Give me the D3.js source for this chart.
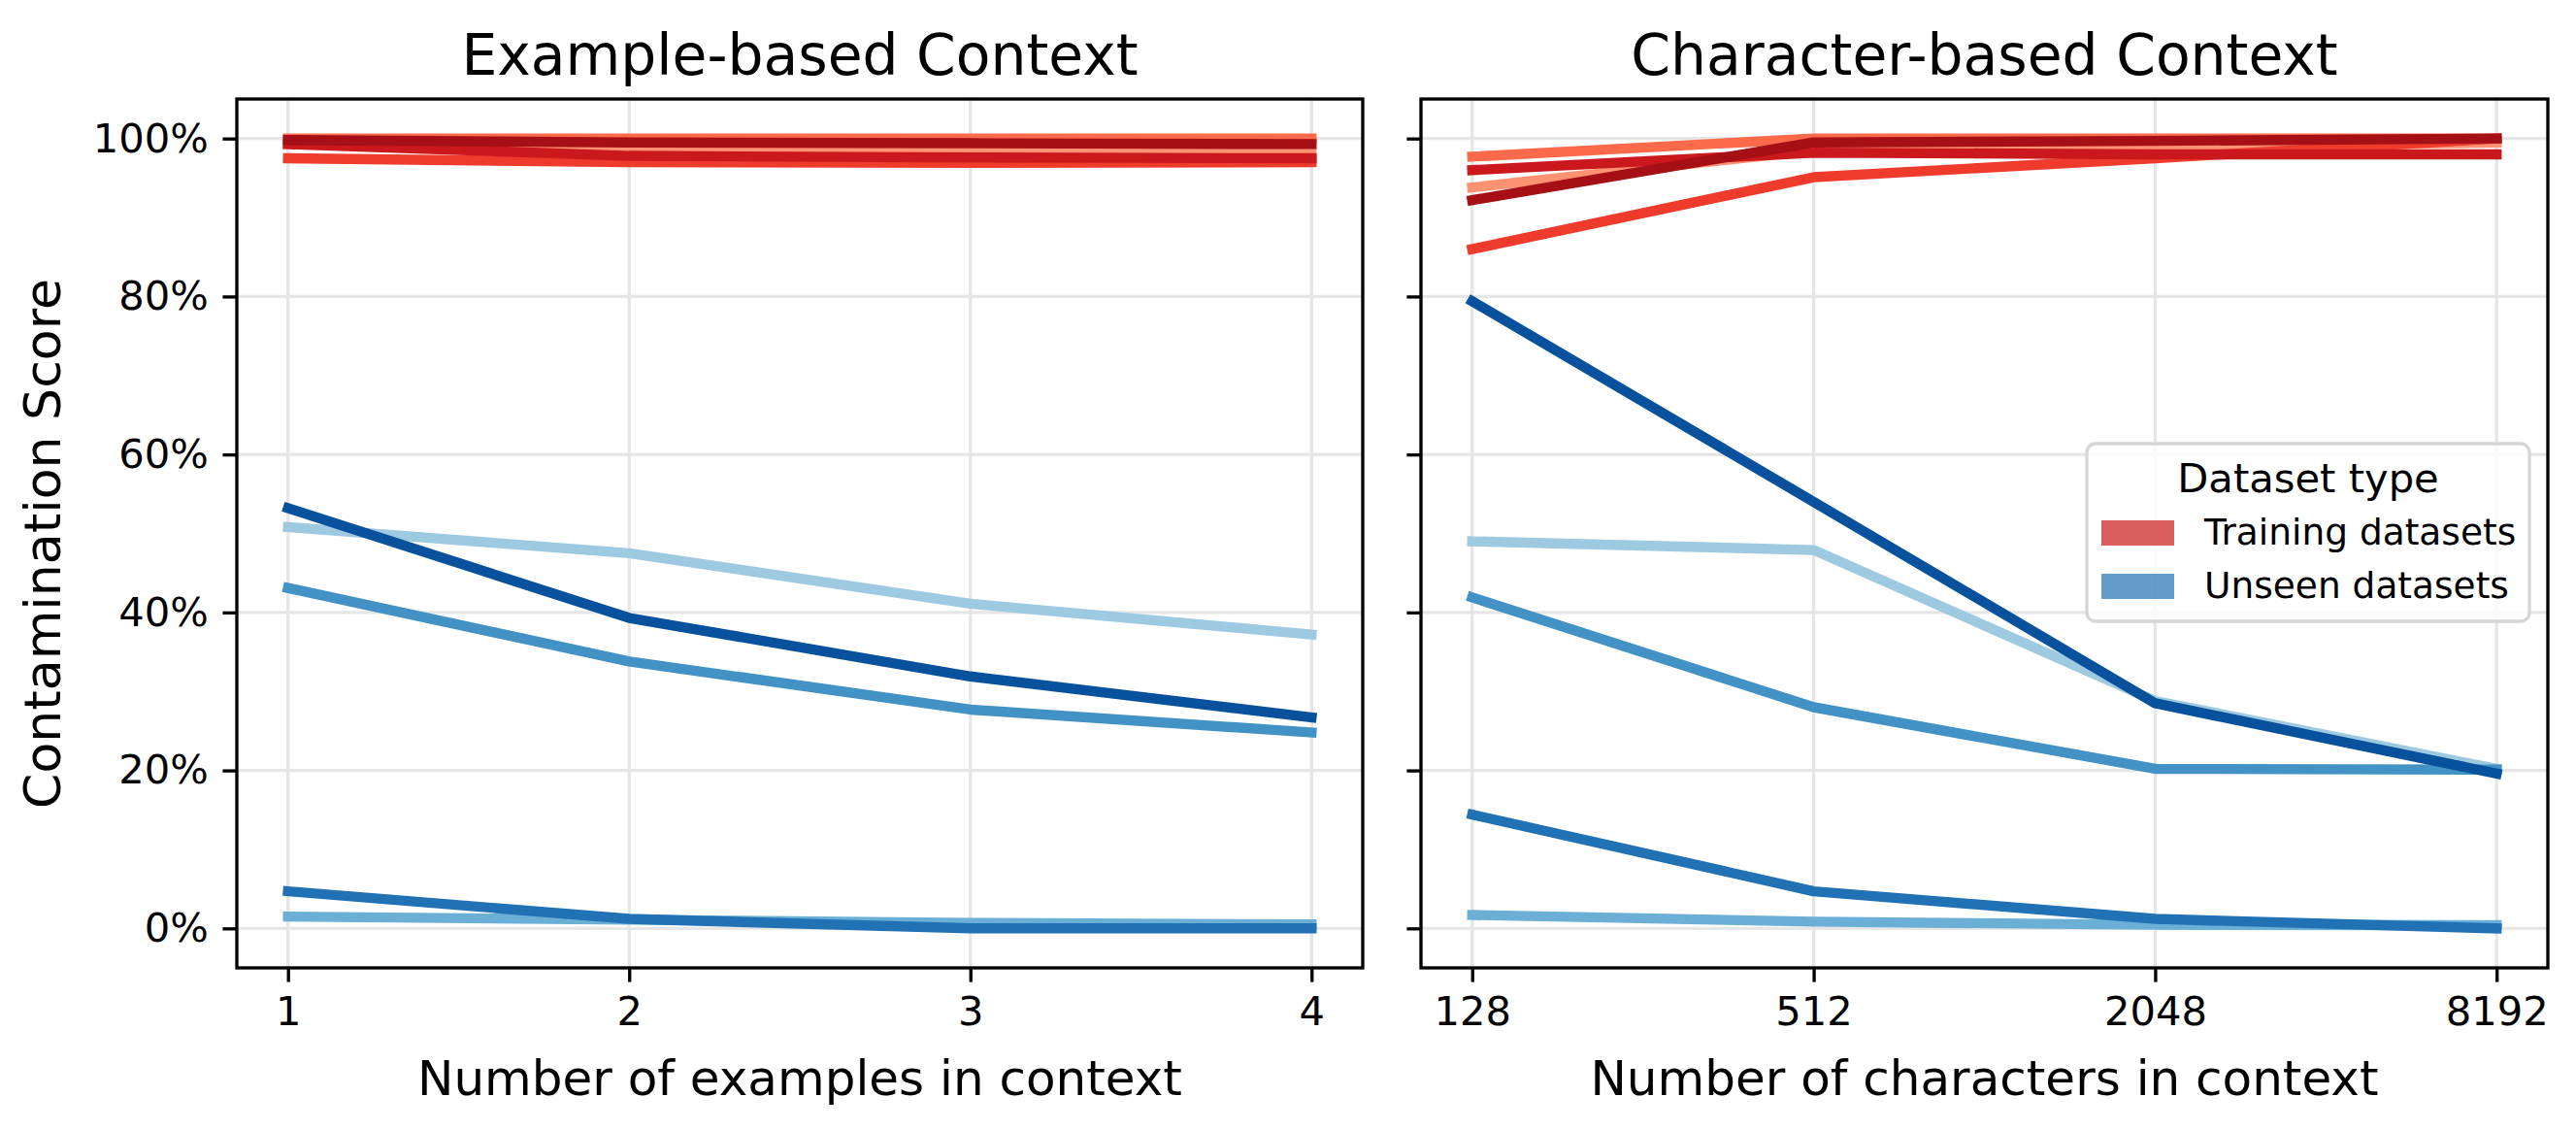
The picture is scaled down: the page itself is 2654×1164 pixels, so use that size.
<!DOCTYPE html>
<html>
<head>
<meta charset="utf-8">
<script src="https://cdn.jsdelivr.net/npm/d3@7"></script>
<style>
  body { margin: 0; background: #fff; }
  text { font-family: "DejaVu Sans", sans-serif; }
</style>
</head>
<body>
<svg></svg>
<script>
// x values for both panels
var exampleCounts = [1, 2, 3, 4];
var charCounts = [128, 512, 2048, 8192];
var yTicks = [0, 20, 40, 60, 80, 100];

// colours, light -> dark (drawn in this order so the dark ones end up on top)
var redColors = ["#fc9272", "#fb6a4a", "#ef3b2c", "#cb181d", "#a50f15"];
var blueColors = ["#9ecae1", "#6baed6", "#4292c6", "#2171b5", "#08519c"];

// training datasets, example-based (one array per red line)
var trainExample1 = [99.3, 98.5, 98.3, 98.2];
var trainExample2 = [100, 100, 100, 100];
var trainExample3 = [97.5, 97.0, 96.9, 97.0];
var trainExample4 = [99.3, 97.8, 97.6, 97.5];
var trainExample5 = [99.8, 99.5, 99.4, 99.3];

// unseen datasets, example-based
var unseenExample1 = [50.8, 47.5, 41.1, 37.2];
var unseenExample2 = [1.5, 1.1, 0.7, 0.5];
var unseenExample3 = [43.1, 33.8, 27.7, 24.8];
var unseenExample4 = [4.7, 1.2, 0.0, 0.0];
var unseenExample5 = [53.2, 39.3, 31.9, 26.7];

// training datasets, character-based
var trainChar1 = [93.8, 98.5, 98.9, 99.5];
var trainChar2 = [97.7, 100, 100, 100];
var trainChar3 = [86.0, 95.1, 97.5, 100];
var trainChar4 = [96.0, 98.2, 98.0, 98.0];
var trainChar5 = [92.2, 99.5, 99.7, 100];

// unseen datasets, character-based
var unseenChar1 = [49.0, 47.9, 28.8, 20.2];
var unseenChar2 = [1.7, 0.85, 0.45, 0.4];
var unseenChar3 = [41.9, 28.0, 20.2, 20.1];
var unseenChar4 = [14.4, 4.7, 1.2, 0.0];
var unseenChar5 = [79.4, 54.0, 28.5, 19.6];

var legendLabels = ["Training datasets", "Unseen datasets"];

var svgWidth = 2654, svgHeight = 1164;
var pt = 300 / 72; // figure was 300 dpi

var svg = d3.select("svg")
    .attr("width", svgWidth)
    .attr("height", svgHeight);

// (don't call these top/bottom, window.top is taken)
var plotTop = 102, plotBottom = 997;

var yScale = d3.scaleLinear()
    .domain([-5, 105])
    .range([plotBottom, plotTop]);

var panels = [
    {
        left: 244, right: 1404,
        title: "Example-based Context",
        xlabel: "Number of examples in context",
        xs: exampleCounts,
        scale: d3.scaleLinear().domain([0.85, 4.15]),
        red: [trainExample1, trainExample2, trainExample3, trainExample4, trainExample5],
        blue: [unseenExample1, unseenExample2, unseenExample3, unseenExample4, unseenExample5],
        yLabels: true
    },
    {
        left: 1464, right: 2625,
        title: "Character-based Context",
        xlabel: "Number of characters in context",
        xs: charCounts,
        // log2 axis, 5% margin on each side like matplotlib
        scale: d3.scaleLog().base(2).domain([Math.pow(2, 6.7), Math.pow(2, 13.3)]),
        red: [trainChar1, trainChar2, trainChar3, trainChar4, trainChar5],
        blue: [unseenChar1, unseenChar2, unseenChar3, unseenChar4, unseenChar5],
        yLabels: false
    }
];

panels.forEach(function(p) {
    var xScale = p.scale.range([p.left, p.right]);
    var g = svg.append("g");

    // grid
    g.selectAll(".hgrid")
        .data(yTicks)
        .enter()
        .append("line")
        .attr("x1", p.left).attr("x2", p.right)
        .attr("y1", function(d) { return yScale(d); })
        .attr("y2", function(d) { return yScale(d); })
        .attr("stroke", "#e6e6e6")
        .attr("stroke-width", 0.8 * pt);

    g.selectAll(".vgrid")
        .data(p.xs)
        .enter()
        .append("line")
        .attr("x1", function(d) { return xScale(d); })
        .attr("x2", function(d) { return xScale(d); })
        .attr("y1", plotTop).attr("y2", plotBottom)
        .attr("stroke", "#e6e6e6")
        .attr("stroke-width", 0.8 * pt);

    var line = d3.line()
        .x(function(d, i) { return xScale(p.xs[i]); })
        .y(function(d) { return yScale(d); });

    function drawSeries(series, colors) {
        series.forEach(function(s, i) {
            g.append("path")
                .datum(s)
                .attr("d", line)
                .attr("fill", "none")
                .attr("stroke", colors[i])
                .attr("stroke-width", 2.5 * pt)
                .attr("stroke-linejoin", "round")
                .attr("stroke-linecap", "square");
        });
    }
    drawSeries(p.red, redColors);
    drawSeries(p.blue, blueColors);

    // axes frame
    g.append("rect")
        .attr("x", p.left).attr("y", plotTop)
        .attr("width", p.right - p.left)
        .attr("height", plotBottom - plotTop)
        .attr("fill", "none")
        .attr("stroke", "#000")
        .attr("stroke-width", 0.8 * pt);

    var x_axis = d3.axisBottom(xScale)
        .tickValues(p.xs)
        .tickFormat(function(d) { return d; })
        .tickSize(3.5 * pt)
        .tickSizeOuter(0)
        .tickPadding(3.5 * pt);

    var y_axis = d3.axisLeft(yScale)
        .tickValues(yTicks)
        .tickFormat(function(d) { return p.yLabels ? d + "%" : ""; })
        .tickSize(3.5 * pt)
        .tickSizeOuter(0)
        .tickPadding(3.5 * pt);

    var xg = g.append("g")
        .attr("transform", "translate(0," + plotBottom + ")")
        .call(x_axis);
    var yg = g.append("g")
        .attr("transform", "translate(" + p.left + ",0)")
        .call(y_axis);

    [xg, yg].forEach(function(a) {
        a.select(".domain").remove();
        a.selectAll(".tick line").attr("stroke", "#000").attr("stroke-width", 0.8 * pt);
        a.selectAll(".tick text")
            .attr("fill", "#000")
            .style("font-family", "DejaVu Sans")
            .style("font-size", (10 * pt) + "px");
    });

    // title + x label
    g.append("text")
        .attr("x", (p.left + p.right) / 2)
        .attr("y", 77)
        .attr("text-anchor", "middle")
        .style("font-size", (14 * pt) + "px")
        .text(p.title);

    g.append("text")
        .attr("x", (p.left + p.right) / 2)
        .attr("y", 1128)
        .attr("text-anchor", "middle")
        .style("font-size", (12 * pt) + "px")
        .text(p.xlabel);
});

// y label
svg.append("text")
    .attr("transform", "translate(62," + 560 + ") rotate(-90)")
    .attr("text-anchor", "middle")
    .style("font-size", (12.5 * pt) + "px")
    .text("Contamination Score");

// legend in the right panel
var legend = svg.append("g").attr("transform", "translate(2150,457)");

legend.append("rect")
    .attr("width", 456).attr("height", 183)
    .attr("rx", 9).attr("ry", 9)
    .attr("fill", "#fff").attr("fill-opacity", 0.8)
    .attr("stroke", "#d6d6d6")
    .attr("stroke-width", 0.8 * pt);

legend.append("text")
    .attr("x", 228).attr("y", 50)
    .attr("text-anchor", "middle")
    .style("font-size", (10 * pt) + "px")
    .text("Dataset type");

var legendColors = [redColors[3], blueColors[3]];

legend.selectAll(".patch")
    .data(legendLabels)
    .enter()
    .append("rect")
    .attr("x", 15)
    .attr("y", function(d, i) { return 79 + i * 55; })
    .attr("width", 75).attr("height", 26)
    .attr("fill", function(d, i) { return legendColors[i]; })
    .attr("fill-opacity", 0.7);

legend.selectAll(".lbl")
    .data(legendLabels)
    .enter()
    .append("text")
    .attr("x", 121)
    .attr("y", function(d, i) { return 104 + i * 55; })
    .style("font-size", (9 * pt) + "px")
    .text(function(d) { return d; });
</script>
</body>
</html>
